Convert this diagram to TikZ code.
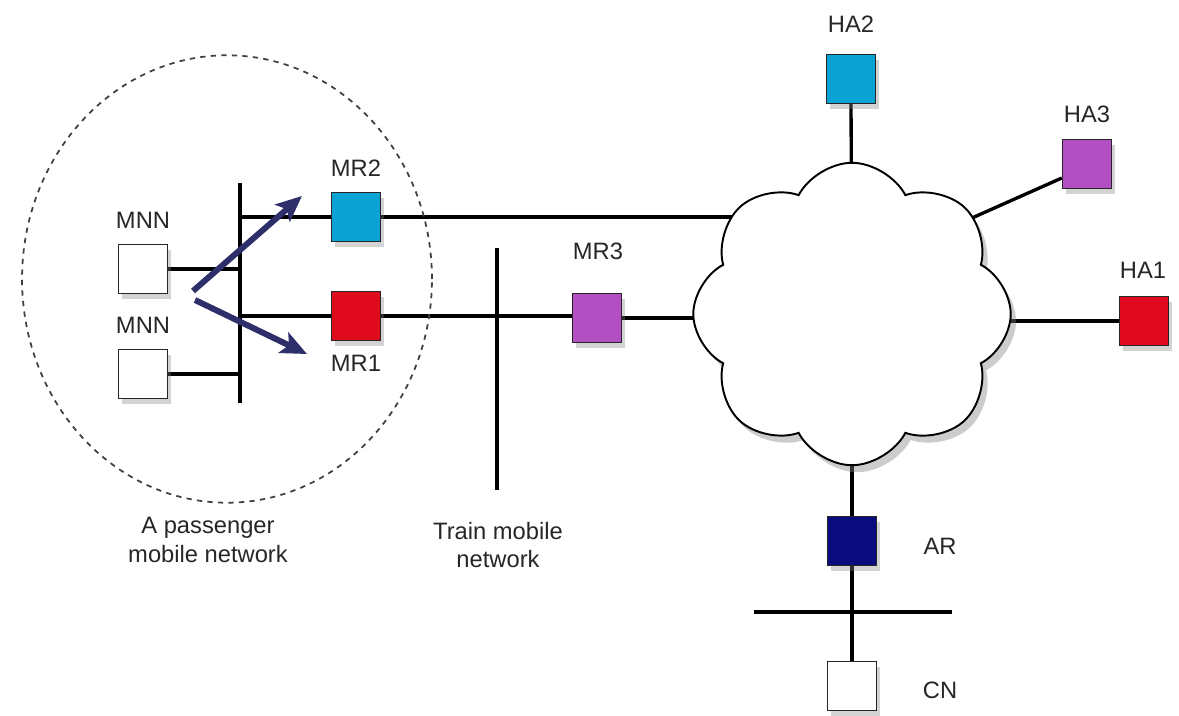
\documentclass[tikz,border=0pt]{standalone}
\usepackage{fontspec}
\setmainfont{Liberation Sans}
\usepackage{tikz}
\usetikzlibrary{shapes.geometric, shapes.symbols, arrows.meta, positioning, shadows, backgrounds}
\definecolor{cyanBox}{HTML}{0AA3D3}
\definecolor{redBox}{HTML}{E00A1E}
\definecolor{purpleBox}{HTML}{B24FC2}
\definecolor{navyBox}{HTML}{0B0B80}
\definecolor{arrowNavy}{HTML}{2E2F6A}
\tikzset{
    box/.style={
        rectangle, draw=black!85, line width=0.8pt, fill=white,
        minimum size=0.98cm, inner sep=0pt,
        drop shadow={opacity=0.35, shadow xshift=2pt, shadow yshift=-3pt}
    },
    lbl/.style={font=\fontsize{13.5}{16}\selectfont, text=black!85, align=center},
    link/.style={line width=1.9pt, draw=black},
    moveArrow/.style={line width=3.4pt, draw=arrowNavy,
        -{Stealth[length=0.52cm, width=0.45cm, inset=0.12cm]}}
}
\begin{document}
\begin{tikzpicture}[x=0.02cm, y=-0.02cm]
    \useasboundingbox (0,0) rectangle (1179,716);

    % Passenger network boundary
    \node[draw=black!75, dashed, line width=1pt, ellipse, minimum width=8.2cm, minimum height=8.95cm] (pan) at (227,279) {};

    % Core network cloud
    \node[cloud, cloud puffs=8, cloud puff arc=125, draw=black, line width=1.1pt, fill=white,
          minimum width=6.35cm, minimum height=6.05cm,
          drop shadow={opacity=0.4, shadow xshift=3pt, shadow yshift=-4pt}] (net) at (852,314) {};

    % Boxes
    \node[box] (mnn1) at (143,269) {};
    \node[box] (mnn2) at (143,374) {};
    \node[box, fill=cyanBox] (mr2) at (356,217) {};
    \node[box, fill=redBox] (mr1) at (356,316) {};
    \node[box, fill=purpleBox] (mr3) at (597,318) {};
    \node[box, fill=cyanBox] (ha2) at (851,79) {};
    \node[box, fill=purpleBox] (ha3) at (1087,164) {};
    \node[box, fill=redBox] (ha1) at (1144,321) {};
    \node[box, fill=navyBox] (ar) at (852,541) {};
    \node[box] (cn) at (852,686) {};

    % Labels
    \node[lbl] (mnn1_l) at (143,220) {MNN};
    \node[lbl] (mnn2_l) at (143,325) {MNN};
    \node[lbl] (mr2_l) at (356,168) {MR2};
    \node[lbl] (mr1_l) at (356,363) {MR1};
    \node[lbl] (mr3_l) at (598,251) {MR3};
    \node[lbl] (ha2_l) at (851,24) {HA2};
    \node[lbl] (ha3_l) at (1087,114) {HA3};
    \node[lbl] (ha1_l) at (1143,270) {HA1};
    \node[lbl] (ar_l) at (940,546) {AR};
    \node[lbl] (cn_l) at (940,690) {CN};
    \node[lbl] (pan_l) at (208,540) {A passenger\\mobile network};
    \node[lbl] (tmn_l) at (498,545) {Train mobile\\network};

    % Bus end points
    \coordinate (bus1t) at (240,183);
    \coordinate (bus1b) at (240,403);
    \coordinate (bus2t) at (497,248);
    \coordinate (bus2b) at (497,490);
    \coordinate (bus3l) at (754,612);
    \coordinate (bus3r) at (952,612);
    \coordinate (ha3c) at (945,230);

    \begin{scope}[on background layer]
        \draw[link] (bus1t) -- (bus1b);
        \draw[link] (bus2t) -- (bus2b);
        \draw[link] (bus3l) -- (bus3r);
        \draw[link] (mnn1.east) -- (mnn1.east -| bus1t);
        \draw[link] (mnn2.east) -- (mnn2.east -| bus1t);
        \draw[link] (mr2.west) -- (mr2.west -| bus1t);
        \draw[link] (mr1.west) -- (mr1.west -| bus1t);
        \draw[link] (mr2.east) -- (mr2.east -| net.center);
        \draw[link] (mr1.east) -- (mr1.east -| mr3.west);
        \draw[link] (mr3.east) -- (mr3.east -| net.center);
        \draw[link] (ha2.south) -- (net.center);
        \draw[link] ([yshift=-0.28cm]ha3.west) -- (ha3c);
        \draw[link] (ha1.west) -- (ha1.west -| net.center);
        \draw[link] (net.center) -- (ar.north);
        \draw[link] (ar.south) -- (cn.north);
    \end{scope}

    % Movement arrows
    \coordinate (mv1s) at (193,291);
    \coordinate (mv1e) at (302,196);
    \coordinate (mv2s) at (195,300);
    \coordinate (mv2e) at (307,354);
    \draw[moveArrow] (mv1s) -- (mv1e);
    \draw[moveArrow] (mv2s) -- (mv2e);
\end{tikzpicture}
\end{document}
